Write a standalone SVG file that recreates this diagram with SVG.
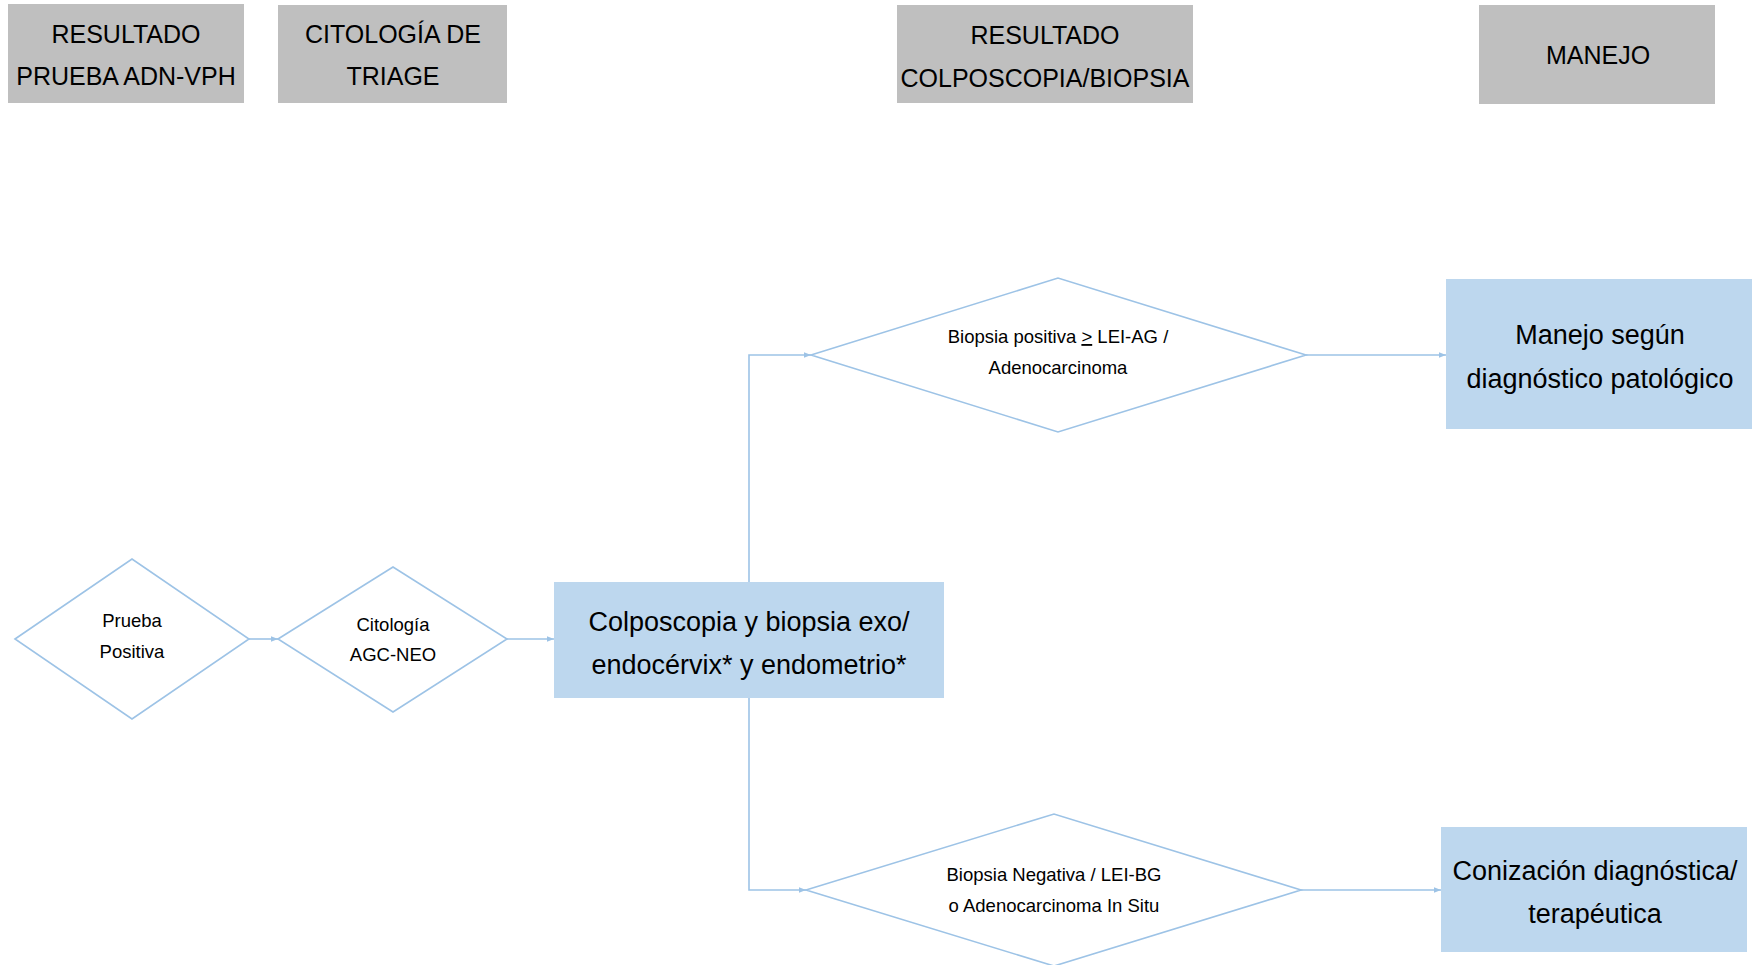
<svg xmlns="http://www.w3.org/2000/svg" width="1756" height="965" viewBox="0 0 1756 965">
<style>
text{font-family:"Liberation Sans",Arial,sans-serif;fill:#000;text-anchor:middle}
.hdr{fill:#BFBFBF}
.hdr-t{font-size:25px}
.box{fill:#BDD7EE}
.box-t{font-size:27px}
.dia{fill:#fff;stroke:#9DC3E6;stroke-width:1.6}
.dia-t{font-size:18.5px}
.con{fill:none;stroke:#9DC3E6;stroke-width:1.6}
</style>
<defs>
<marker id="ah" viewBox="0 0 10 10" refX="10" refY="5" markerWidth="7" markerHeight="7" markerUnits="userSpaceOnUse" orient="auto">
<path d="M0,1 L10,5 L0,9 z" fill="#9DC3E6"/>
</marker>
</defs>
<rect width="1756" height="965" fill="#fff"/>

<g id="hdr1"><rect class="hdr" x="8" y="4" width="236" height="99"/><text class="hdr-t" x="126" y="43">RESULTADO</text><text class="hdr-t" x="126" y="85">PRUEBA ADN-VPH</text></g>
<g id="hdr2"><rect class="hdr" x="278" y="5" width="229" height="98"/><text class="hdr-t" x="393" y="43">CITOLOGÍA DE</text><text class="hdr-t" x="393" y="85">TRIAGE</text></g>
<g id="hdr3"><rect class="hdr" x="897" y="5" width="296" height="98"/><text class="hdr-t" x="1045" y="44">RESULTADO</text><text class="hdr-t" x="1045" y="87">COLPOSCOPIA/BIOPSIA</text></g>
<g id="hdr4"><rect class="hdr" x="1479" y="5" width="236" height="99"/><text class="hdr-t" x="1598" y="64">MANEJO</text></g>

<g id="connectors">
<line class="con" x1="249" y1="639" x2="278" y2="639" marker-end="url(#ah)"/>
<line class="con" x1="507" y1="639" x2="554" y2="639" marker-end="url(#ah)"/>
<path class="con" d="M749,582 V355 H811" marker-end="url(#ah)"/>
<path class="con" d="M749,698 V890 H806" marker-end="url(#ah)"/>
<line class="con" x1="1306" y1="355" x2="1446" y2="355" marker-end="url(#ah)"/>
<line class="con" x1="1301" y1="890" x2="1441" y2="890" marker-end="url(#ah)"/>
</g>

<g id="d1"><polygon class="dia" points="15,639 132,559 249,639 132,719"/><text class="dia-t" x="132" y="627">Prueba</text><text class="dia-t" x="132" y="658">Positiva</text></g>
<g id="d2"><polygon class="dia" points="278,639 393,567 507,639 393,712"/><text class="dia-t" x="393" y="631">Citología</text><text class="dia-t" x="393" y="661">AGC-NEO</text></g>
<g id="colpo"><rect class="box" x="554" y="582" width="390" height="116"/><text class="box-t" x="749" y="631">Colposcopia y biopsia exo/</text><text class="box-t" x="749" y="674">endocérvix* y endometrio*</text></g>
<g id="d3"><polygon class="dia" points="811,355 1058,278 1306,355 1058,432"/><text class="dia-t" x="1058" y="343">Biopsia positiva <tspan text-decoration="underline">&gt;</tspan> LEI-AG /</text><text class="dia-t" x="1058" y="374">Adenocarcinoma</text></g>
<g id="d4"><polygon class="dia" points="806,890 1054,814 1301,890 1054,966"/><text class="dia-t" x="1054" y="881">Biopsia Negativa / LEI-BG</text><text class="dia-t" x="1054" y="912">o Adenocarcinoma In Situ</text></g>
<g id="manejo"><rect class="box" x="1446" y="279" width="306" height="150"/><text class="box-t" x="1600" y="344">Manejo según</text><text class="box-t" x="1600" y="388">diagnóstico patológico</text></g>
<g id="coniz"><rect class="box" x="1441" y="827" width="306" height="125"/><text class="box-t" x="1595" y="880">Conización diagnóstica/</text><text class="box-t" x="1595" y="923">terapéutica</text></g>
</svg>
